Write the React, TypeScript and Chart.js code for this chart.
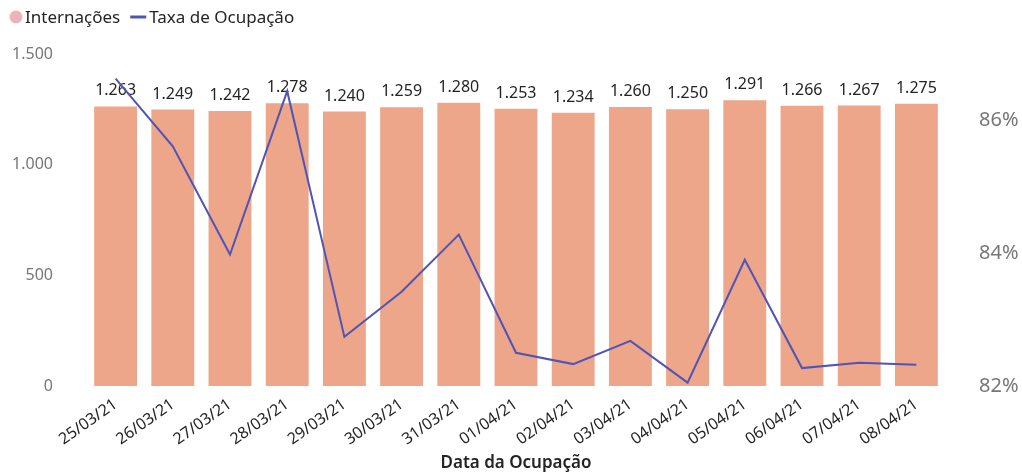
import React, { useEffect, useRef } from "react";
import { Chart, registerables } from "chart.js";

Chart.register(...registerables);

const categories = ["25/03/21","26/03/21","27/03/21","28/03/21","29/03/21","30/03/21","31/03/21","01/04/21","02/04/21","03/04/21","04/04/21","05/04/21","06/04/21","07/04/21","08/04/21"];
const internacoes = [1263,1249,1242,1278,1240,1259,1280,1253,1234,1260,1250,1291,1266,1267,1275];
const taxaOcupacao = [86.63,85.61,83.98,86.44,82.74,83.42,84.28,82.50,82.33,82.68,82.05,83.90,82.27,82.35,82.32];
const leftTicks = [0, 500, 1000, 1500];
const rightTicks = [82, 84, 86];

const BAR_COLOR = "#EDA68A";
const LINE_COLOR = "#5054B4";
const LEGEND_DOT = "#EDB3BC";
const TEXT_DARK = "#252423";
const TEXT_GRAY = "#777777";
const FONT = "'Noto Sans', 'Open Sans', sans-serif";

const fmt = (v: number) => v.toLocaleString("pt-BR");

const legendPlugin = {
  id: "customLegend",
  afterDraw(chart: any) {
    const ctx = chart.ctx;
    ctx.save();
    ctx.font = `17px ${FONT}`;
    ctx.textBaseline = "middle";
    ctx.fillStyle = LEGEND_DOT;
    ctx.beginPath();
    ctx.arc(16, 17, 6.5, 0, Math.PI * 2);
    ctx.fill();
    ctx.fillStyle = TEXT_DARK;
    ctx.textAlign = "left";
    const t1 = "Internações";
    ctx.fillText(t1, 25, 18);
    const w1 = ctx.measureText(t1).width;
    const lx = 25 + w1 + 10;
    ctx.strokeStyle = LINE_COLOR;
    ctx.lineWidth = 3;
    ctx.beginPath();
    ctx.moveTo(lx, 17);
    ctx.lineTo(lx + 16, 17);
    ctx.stroke();
    ctx.fillText("Taxa de Ocupação", lx + 19, 18);
    ctx.restore();
  },
};

const labelPlugin = {
  id: "barLabels",
  afterDatasetDraw(chart: any, args: any) {
    if (args.index !== 0) return;
    const ctx = chart.ctx;
    const meta = chart.getDatasetMeta(0);
    ctx.save();
    ctx.font = `16px ${FONT}`;
    ctx.fillStyle = TEXT_DARK;
    ctx.textAlign = "center";
    ctx.textBaseline = "alphabetic";
    meta.data.forEach((el: any, i: number) => {
      ctx.fillText(fmt(internacoes[i]), el.x, el.y - 11);
    });
    ctx.restore();
  },
};

export default function App() {
  const ref = useRef<HTMLCanvasElement | null>(null);
  useEffect(() => {
    document.body.style.margin = "0";
    if (!ref.current) return;
    const chart = new Chart(ref.current, {
      type: "bar",
      data: {
        labels: categories,
        datasets: [
          {
            type: "bar",
            label: "Internações",
            data: internacoes,
            backgroundColor: BAR_COLOR,
            yAxisID: "y",
            order: 2,
            barPercentage: 0.75,
            categoryPercentage: 1,
          },
          {
            type: "line",
            label: "Taxa de Ocupação",
            data: taxaOcupacao,
            borderColor: LINE_COLOR,
            backgroundColor: LINE_COLOR,
            borderWidth: 2,
            pointRadius: 0,
            tension: 0,
            yAxisID: "y1",
            order: 1,
          },
        ],
      },
      options: {
        animation: false,
        responsive: false,
        maintainAspectRatio: false,
        layout: { padding: { top: 54, left: 0, right: 0, bottom: 0 } },
        plugins: {
          legend: { display: false },
          tooltip: { enabled: false },
        },
        scales: {
          x: {
            grid: { display: false },
            border: { display: false },
            ticks: {
              color: TEXT_DARK,
              font: { family: FONT, size: 16 },
              minRotation: 35,
              maxRotation: 35,
              padding: 1,
              autoSkip: false,
            },
            title: {
              display: true,
              text: "Data da Ocupação",
              color: TEXT_DARK,
              font: { family: FONT, size: 17, weight: "600" },
              padding: { top: 0, bottom: 1 },
            },
            afterFit(scale: any) {
              scale.height = 88;
            },
          },
          y: {
            position: "left",
            min: 0,
            max: 1500,
            grid: { display: false, drawTicks: false },
            border: { display: false },
            ticks: {
              color: TEXT_GRAY,
              font: { family: FONT, size: 16 },
              padding: 34,
              stepSize: 500,
              callback: (v: any) => fmt(Number(v)),
            },
            afterBuildTicks(scale: any) {
              scale.ticks = leftTicks.map((v) => ({ value: v }));
            },
            afterFit(scale: any) {
              scale.width = 87;
            },
          },
          y1: {
            position: "right",
            min: 82,
            max: 87,
            grid: { display: false, drawTicks: false },
            border: { display: false },
            ticks: {
              color: TEXT_GRAY,
              font: { family: FONT, size: 20 },
              padding: 34,
              callback: (v: any) => `${v}%`,
            },
            afterBuildTicks(scale: any) {
              scale.ticks = rightTicks.map((v) => ({ value: v }));
            },
            afterFit(scale: any) {
              scale.width = 77;
            },
          },
        },
      },
      plugins: [labelPlugin, legendPlugin],
    } as any);
    return () => chart.destroy();
  }, []);
  return (
    <div style={{ width: 1022, height: 474, position: "relative" }}>
      <canvas ref={ref} width={1022} height={474} style={{ width: 1022, height: 474 }} />
    </div>
  );
}
